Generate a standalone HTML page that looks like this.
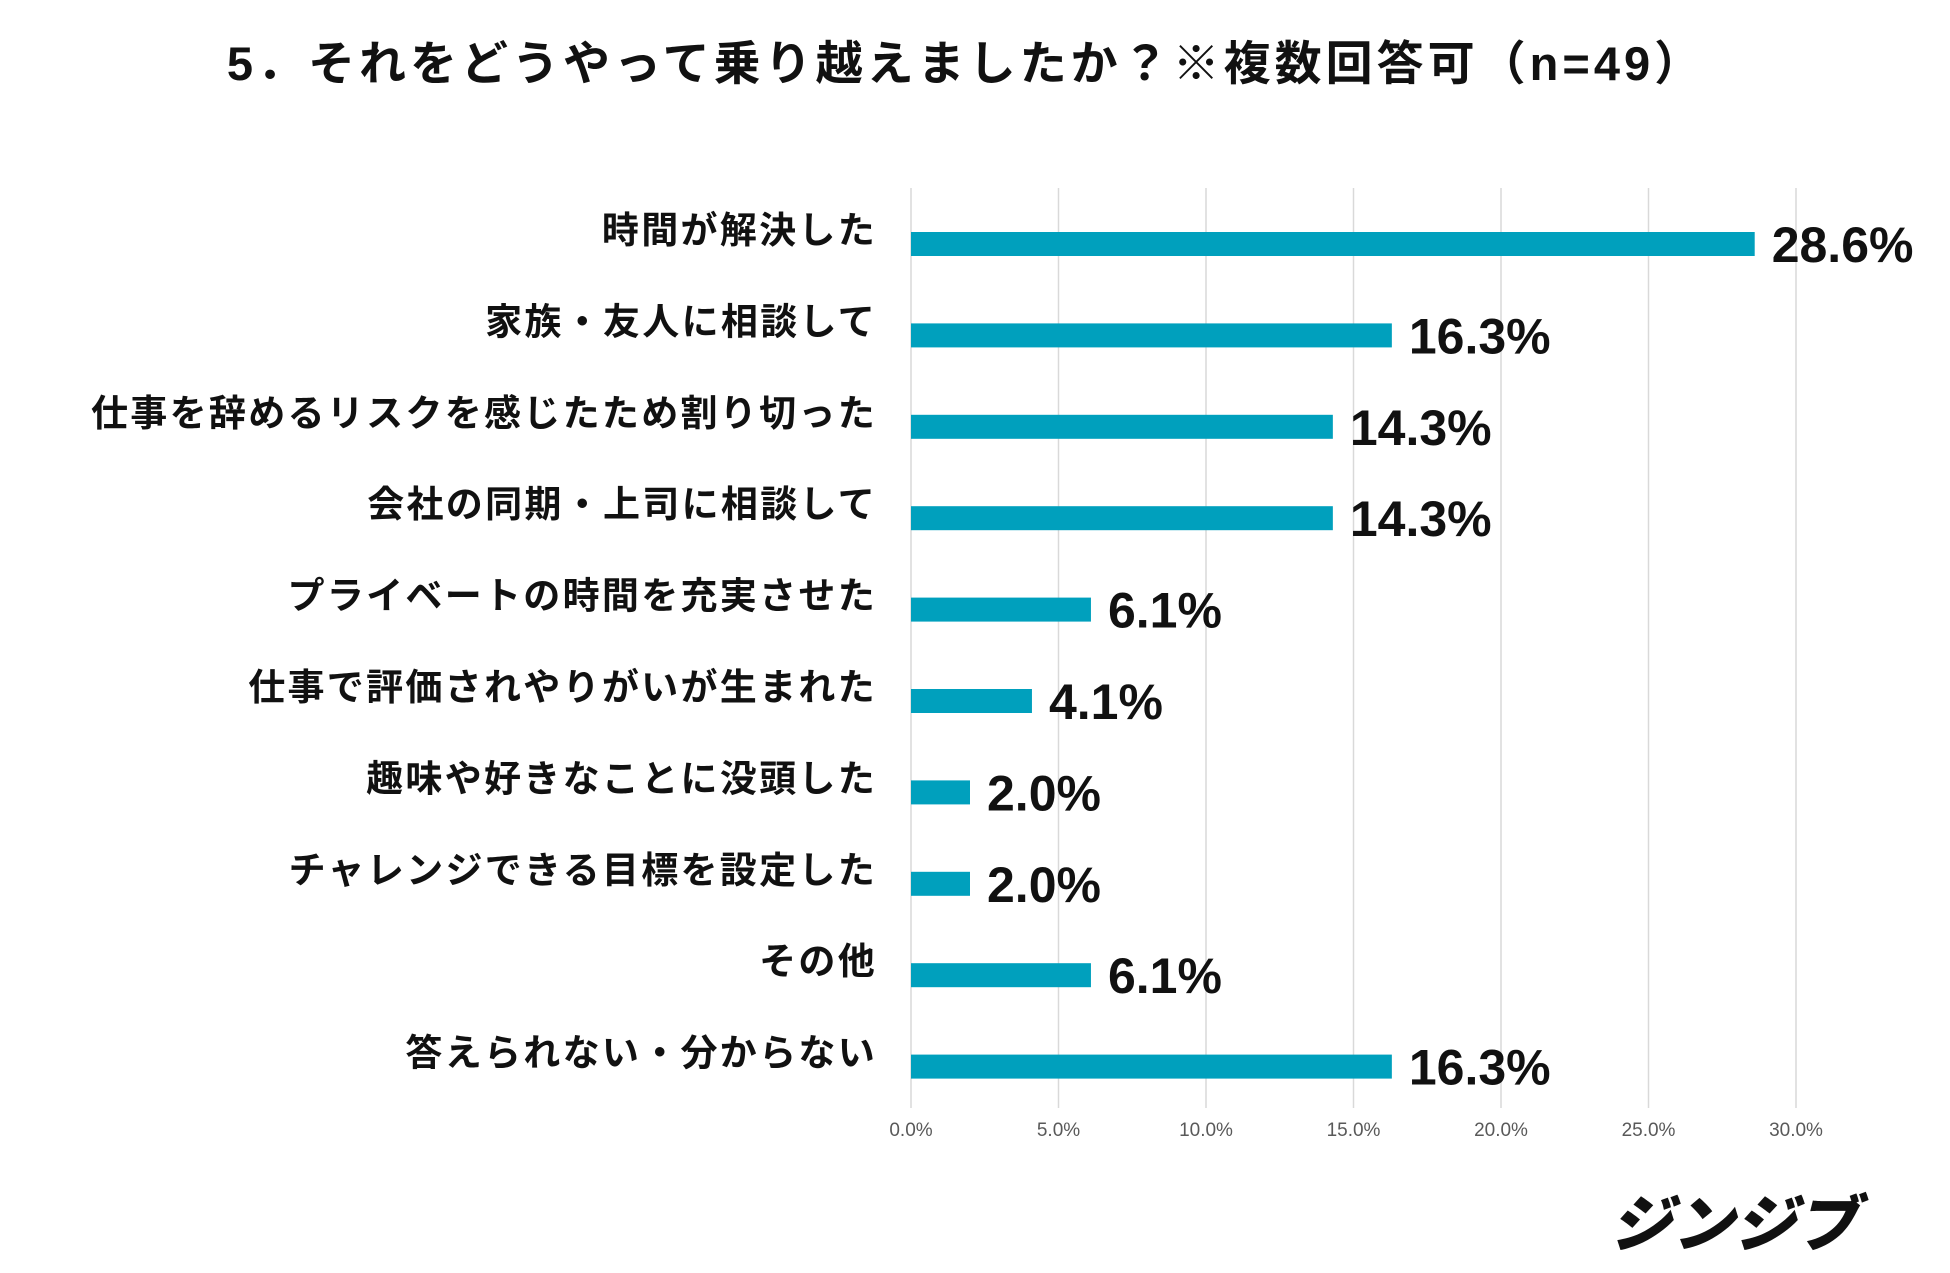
<!DOCTYPE html>
<html><head><meta charset="utf-8">
<style>
html,body{margin:0;padding:0;background:#fff;width:1950px;height:1273px;overflow:hidden}
svg{display:block}
.jp{font-family:"Liberation Sans","Noto Sans CJK JP",sans-serif}
</style></head>
<body>
<svg id="chart" width="1950" height="1273" xmlns="http://www.w3.org/2000/svg">
<text x="966" y="80" text-anchor="middle" class="jp" font-size="47" letter-spacing="4" font-weight="bold" fill="#111">5．それをどうやって乗り越えましたか？※複数回答可（n=49）</text>
<g id="grid"></g>
<g id="bars"></g>
<text x="1734" y="1246" text-anchor="middle" class="jp" font-size="62" font-weight="900" font-style="italic" fill="#111">ジンジブ</text>
</svg>
<script>
const categories=["時間が解決した","家族・友人に相談して","仕事を辞めるリスクを感じたため割り切った","会社の同期・上司に相談して","プライベートの時間を充実させた","仕事で評価されやりがいが生まれた","趣味や好きなことに没頭した","チャレンジできる目標を設定した","その他","答えられない・分からない"];
const values=[28.6,16.3,14.3,14.3,6.1,4.1,2.0,2.0,6.1,16.3];
const ticks=[0,5,10,15,20,25,30];
const NS="http://www.w3.org/2000/svg";
const x0=911,x1=1796,xmax=30,top0=244,step=91.4,barH=24;
const xs=v=>x0+(x1-x0)*v/xmax;
const ys=i=>top0+i*step;
const grid=document.getElementById('grid'),bars=document.getElementById('bars');
function mk(tag,attrs,parent){const e=document.createElementNS(NS,tag);for(const k in attrs)e.setAttribute(k,attrs[k]);parent.appendChild(e);return e;}
ticks.forEach(t=>{
  const l=mk('line',{x1:xs(t),x2:xs(t),y1:188,y2:1108,stroke:'#d9d9d9','stroke-width':1.5},grid);
  
  
  const tx=mk('text',{x:xs(t),y:1136,'text-anchor':'middle','font-size':19,fill:'#595959','font-family':'"Liberation Sans Narrow","Liberation Sans",sans-serif'},grid);
  tx.textContent=t.toFixed(1)+'%';
  
  
});
categories.forEach((c,i)=>{
  const cy=ys(i);
  const r=mk('rect',{x:x0,y:cy-barH/2,width:xs(values[i])-x0,height:barH,fill:'#00a0bd'},bars);
  
  
  const lab=mk('text',{x:877,y:cy-1,'text-anchor':'end','font-size':37,'letter-spacing':2.3,'font-weight':'bold',fill:'#111','font-family':'"Liberation Sans","Noto Sans CJK JP",sans-serif'},bars);
  lab.textContent=c;
  
  
  const v=mk('text',{x:xs(values[i])+17,y:cy+18,'font-size':50,'font-weight':'bold',fill:'#111','font-family':'"Liberation Sans Narrow","Liberation Sans",sans-serif'},bars);
  v.textContent=values[i].toFixed(1)+'%';
  
  
});
</script>
</body></html>
